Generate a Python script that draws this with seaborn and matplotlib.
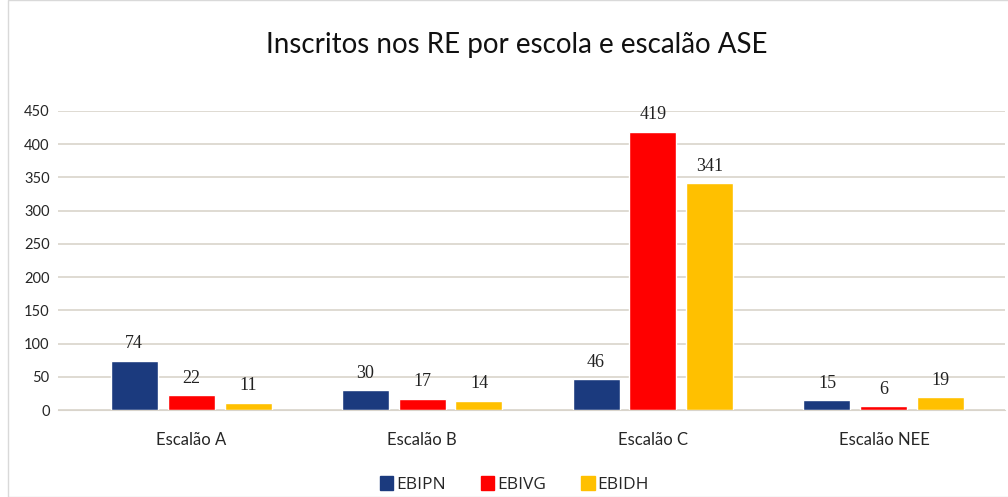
import pandas as pd
import matplotlib.pyplot as plt
import matplotlib.patches as mpatches
import seaborn as sns

escaloes = ["Escalão A", "Escalão B", "Escalão C", "Escalão NEE"]
escolas = ["EBIPN", "EBIVG", "EBIDH"]
ebipn = [74, 30, 46, 15]
ebivg = [22, 17, 419, 6]
ebidh = [11, 14, 341, 19]
cores = ["#1b3a7e", "#ff0000", "#ffc000"]

sns.set_style("white")
plt.rcParams["font.family"] = ["Lato", "DejaVu Sans"]

df = pd.DataFrame({
    "escalao": escaloes * 3,
    "escola": [e for e in escolas for _ in escaloes],
    "valor": ebipn + ebivg + ebidh,
})

fig = plt.figure(figsize=(10.08, 4.97), dpi=100)
ax = fig.add_axes([58 / 1008, 87 / 497, 947 / 1008, 299 / 497])

sns.barplot(data=df, x="escalao", y="valor", hue="escola", palette=cores,
            width=0.74, gap=0.175, ax=ax, legend=False, saturation=1)

ax.set_ylim(0, 450)
ax.set_xlim(-0.576, 3.524)
ax.set_yticks(range(0, 451, 50))
ax.yaxis.grid(True, color="#d9d4cb", linewidth=1.2)
ax.set_axisbelow(True)
for s in ["top", "right", "left"]:
    ax.spines[s].set_visible(False)
ax.spines["bottom"].set_color("#d9d4cb")
ax.tick_params(axis="y", length=0, labelsize=10.5, pad=6)
ax.tick_params(axis="x", length=0, labelsize=12, pad=16)
ax.set_xlabel("")
ax.set_ylabel("")

# valores por cima das barras
for cont in ax.containers:
    ax.bar_label(cont, padding=6, fontsize=13, family="Liberation Serif", color="#222222")

fig.text(0.513, 0.91, "Inscritos nos RE por escola e escalão ASE", ha="center",
         va="center", fontsize=20, color="#111111")

handles = [mpatches.Patch(color=c, label=n) for c, n in zip(cores, escolas)]
fig.legend(handles=handles, loc="center", bbox_to_anchor=(0.51, 0.025), ncol=3,
           frameon=False, handlelength=0.8, handleheight=0.8,
           handletextpad=0.15, columnspacing=2.0,
           prop={"family": "Open Sans", "size": 12.5})

fig.patches.append(mpatches.Rectangle((8 / 1008, 0), 1, 1, transform=fig.transFigure,
                                      fill=False, edgecolor="#d9d9d9", linewidth=1))

plt.savefig("out.png", dpi=100)
plt.close()
